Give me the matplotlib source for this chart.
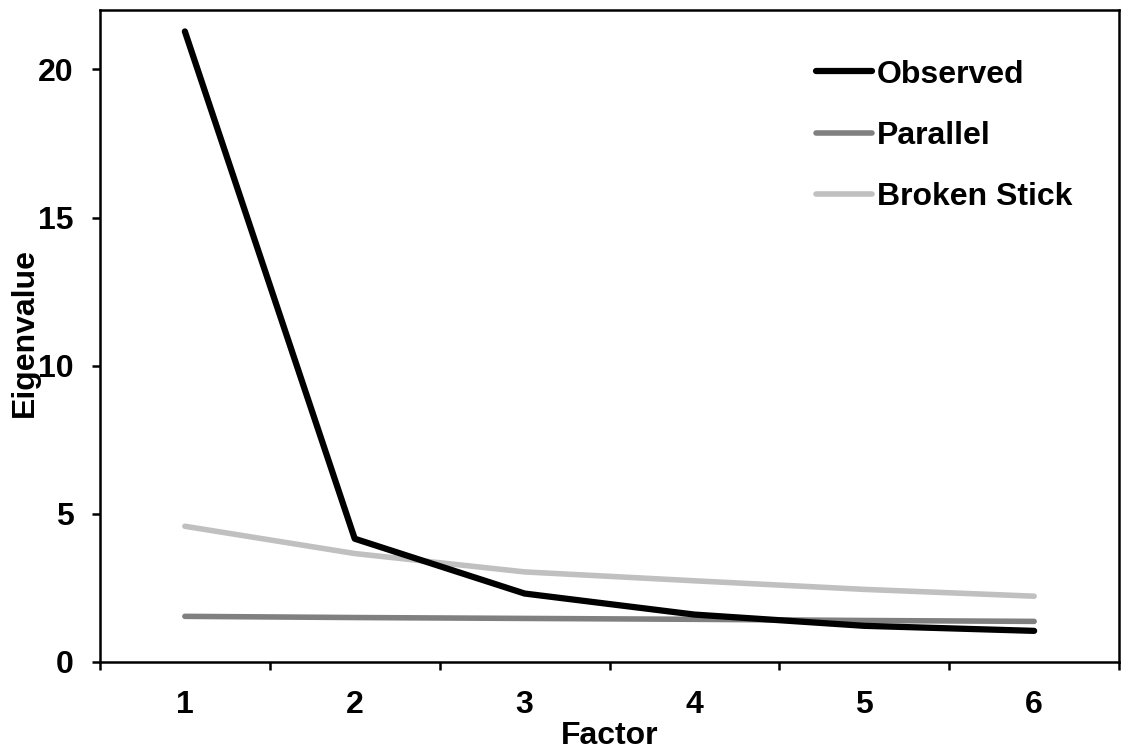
import numpy as np
import matplotlib
matplotlib.use("Agg")
import matplotlib.pyplot as plt

plt.rcParams['font.family'] = ['Liberation Sans', 'DejaVu Sans']
plt.rcParams['font.weight'] = 'bold'

factors = [1, 2, 3, 4, 5, 6]
observed = [21.28, 4.16, 2.31, 1.60, 1.22, 1.05]
parallel = [1.54, 1.50, 1.47, 1.44, 1.40, 1.37]
broken_stick = [4.58, 3.66, 3.04, 2.74, 2.45, 2.22]

fig = plt.figure(figsize=(11.23, 7.48), dpi=100)
ax = fig.add_axes([0.089, 0.115, 0.9075, 0.8715])

ax.plot(factors, observed, color='black', lw=4.5, solid_capstyle='round', label='Observed', zorder=3)
ax.plot(factors, parallel, color='#808080', lw=4.0, solid_capstyle='round', label='Parallel', zorder=2)
ax.plot(factors, broken_stick, color='#c0c0c0', lw=4.0, solid_capstyle='round', label='Broken Stick', zorder=1)

ax.set_xlim(0.5, 6.5)
ax.set_ylim(0, 22)
ax.set_yticks([0, 5, 10, 15, 20])
ax.set_xticks(factors)
ax.set_xticks(np.arange(0.5, 7, 1), minor=True)
ax.tick_params(axis='x', which='major', length=0, pad=20, labelsize=23)
ax.tick_params(axis='x', which='minor', length=6, width=1.8, direction='out')
ax.tick_params(axis='y', length=6, width=1.8, pad=13, labelsize=23)

for s in ax.spines.values():
    s.set_linewidth(1.8)

ax.set_xlabel('Factor', fontsize=23, fontweight='bold')
ax.xaxis.set_label_coords(0.5, -0.091)
ax.set_ylabel('Eigenvalue', fontsize=23, fontweight='bold')
ax.yaxis.set_label_coords(-0.059, 0.505)

ax.legend(loc='upper left', bbox_to_anchor=(0.7026, 0.924), frameon=False,
          borderaxespad=0, borderpad=0,
          fontsize=23, handlelength=1.75, handletextpad=0.15, labelspacing=0.98)

fig.savefig('out.png', dpi=100)
